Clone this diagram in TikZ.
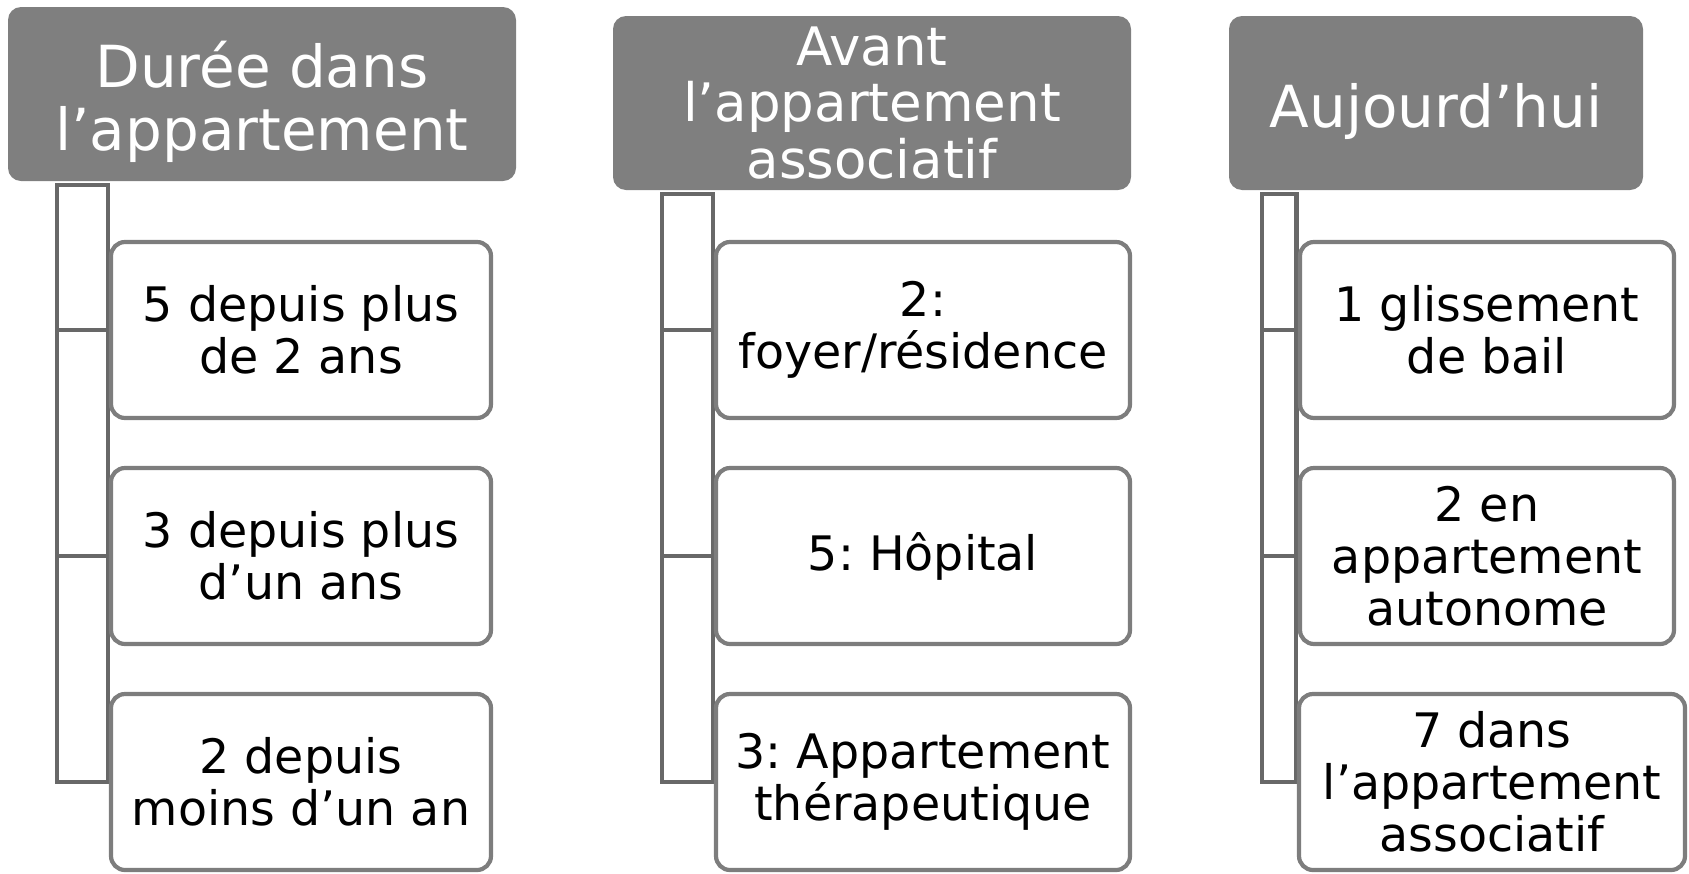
\documentclass[tikz,border=0pt]{standalone}
\usepackage{fontspec}
\setmainfont{DejaVu Sans}
\definecolor{hdrgray}{RGB}{127,127,127}
\definecolor{conngray}{RGB}{104,104,104}
\definecolor{boxgray}{RGB}{125,125,125}
\frenchspacing
\begin{document}
\begin{tikzpicture}[x=0.5pt,y=-0.5pt,
  hdr/.style={rectangle, rounded corners=6.5pt, fill=hdrgray, inner sep=0pt, minimum height=87pt},
  hdrtext/.style={text=white, align=center, inner sep=0pt},
  bigfont/.style={font=\fontsize{29}{31.5}\selectfont},
  midfont/.style={font=\fontsize{26.5}{28.3}\selectfont},
  child/.style={rectangle, rounded corners=7pt, draw=boxgray, line width=2.1pt, fill=white,
    inner sep=0pt, align=center, minimum height=88pt, font=\fontsize{23.75}{26}\selectfont\frenchspacing},
  conn/.style={draw=conngray, line width=2pt}]
\useasboundingbox (0,0) rectangle (1689,873);

% headers
\node[hdr, minimum width=254pt] (h1) at (262,94) {};
\node[hdr, minimum width=259pt] (h2) at (872,103) {};
\node[hdr, minimum width=207pt] (h3) at (1436,103) {};
\node[hdrtext, bigfont] (t1) at ([yshift=-4pt]h1.center) {Durée dans\\l’appartement};
\node[hdrtext, midfont] (t2) at (h2.center) {Avant\\l’appartement\\associatif};
\node[hdrtext, bigfont] (t3) at ([yshift=-4.3pt]h3.center) {Aujourd’hui};

% connector anchors
\coordinate (c1) at (57,185);
\coordinate (c2) at (662,194);
\coordinate (c3) at (1262,194);

% box positions
\path
  (301,330) coordinate (p11) (301,556) coordinate (p12) (301,782) coordinate (p13)
  (923,330) coordinate (p21) (923,556) coordinate (p22) (923,782) coordinate (p23)
  (1487,330) coordinate (p31) (1487,556) coordinate (p32) (1492,782) coordinate (p33);

% connectors
\foreach \c/\p/\w in {c1/p11/96.5, c1/p12/96.5, c1/p13/96.5,
                      c2/p21/105, c2/p22/105, c2/p23/105,
                      c3/p31/95, c3/p32/95, c3/p33/98} {
  \draw[conn] (\c) rectangle ([xshift=-\w pt]\p);
}

% boxes
\node[child, minimum width=190pt] (b11) at (p11) {5 depuis plus\\de 2 ans};
\node[child, minimum width=190pt] (b12) at (p12) {3 depuis plus\\d’un ans};
\node[child, minimum width=190pt] (b13) at (p13) {2 depuis\\moins d’un an};
\node[child, minimum width=207pt] (b21) at (p21) {2:\\foyer/résidence};
\node[child, minimum width=207pt] (b22) at (p22) {5: Hôpital};
\node[child, minimum width=207pt] (b23) at (p23) {3: Appartement\\thérapeutique};
\node[child, minimum width=187pt] (b31) at (p31) {1 glissement\\de bail};
\node[child, minimum width=187pt] (b32) at (p32) {2 en\\appartement\\autonome};
\node[child, minimum width=193pt] (b33) at (p33) {7 dans\\l’appartement\\associatif};
\end{tikzpicture}
\end{document}
